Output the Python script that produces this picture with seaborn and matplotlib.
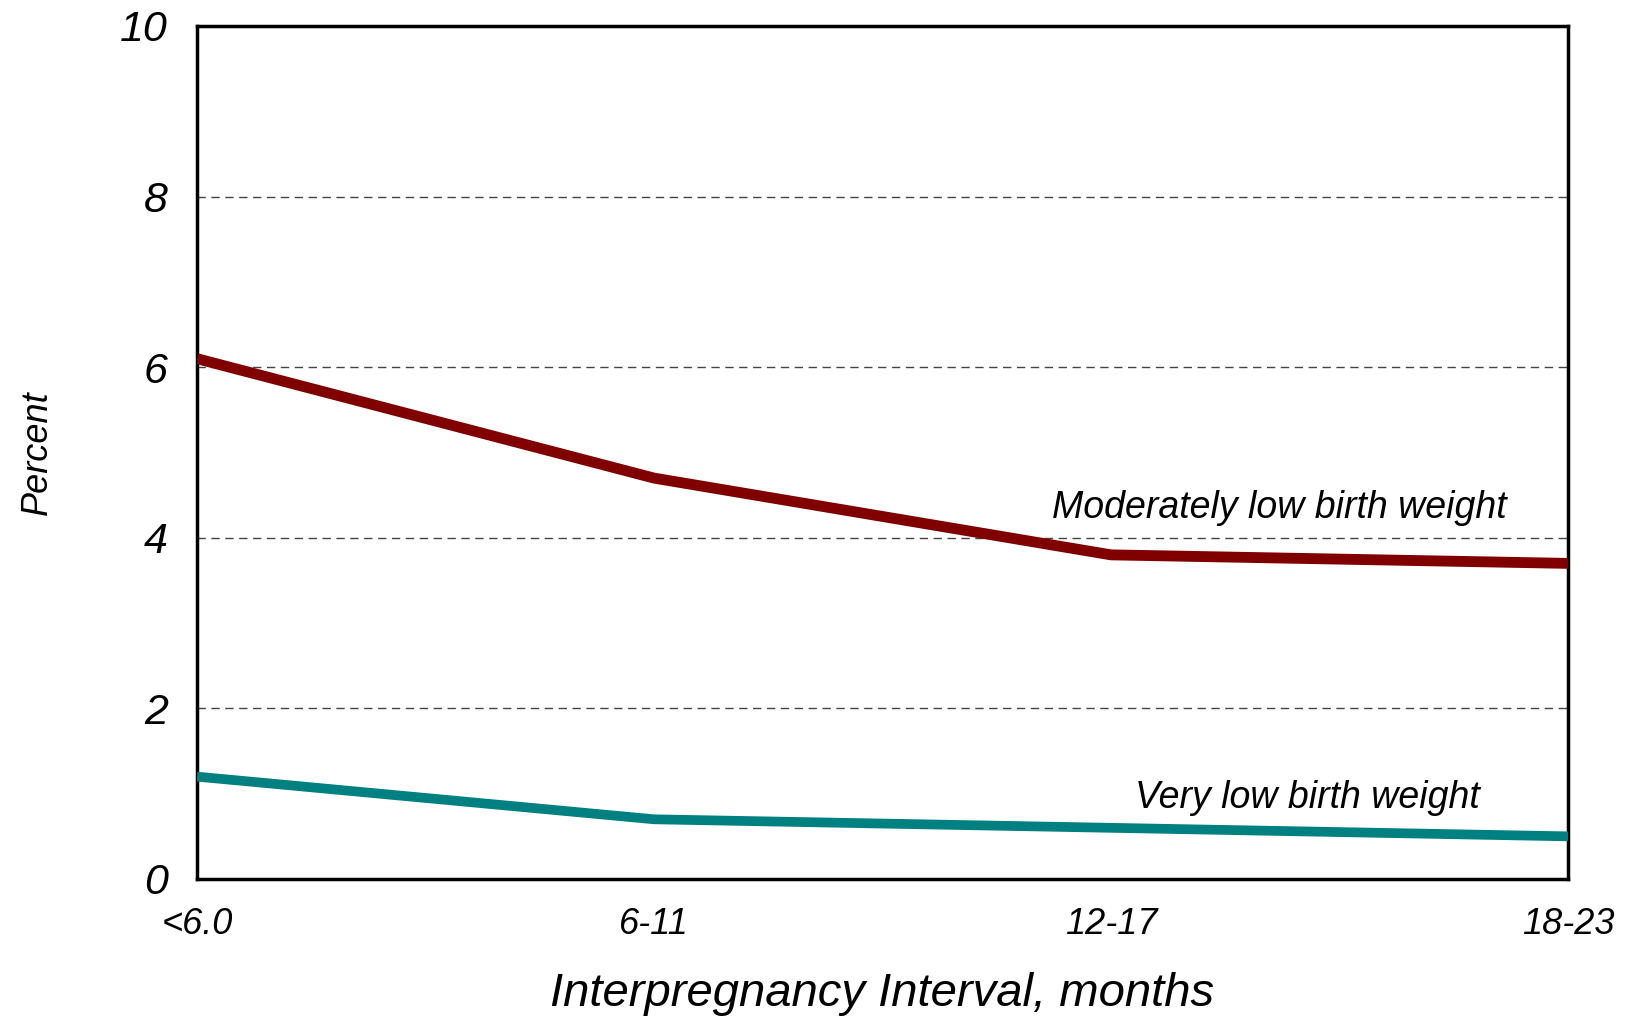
import matplotlib
matplotlib.use("Agg")
import matplotlib.pyplot as plt
import seaborn as sns
import pandas as pd

categories = ["<6.0", "6-11", "12-17", "18-23"]
moderately_low = [6.1, 4.7, 3.8, 3.7]
very_low = [1.2, 0.7, 0.6, 0.5]
series_names = ["Moderately low birth weight", "Very low birth weight"]
colors = ["#800000", "#008080"]
y_ticks = [0, 2, 4, 6, 8, 10]

sns.set_style("white")
plt.rcParams["font.family"] = ["Liberation Sans", "DejaVu Sans"]
plt.rcParams["font.style"] = "italic"
plt.rcParams["text.color"] = "black"
plt.rcParams["axes.labelcolor"] = "black"
plt.rcParams["xtick.color"] = "black"
plt.rcParams["ytick.color"] = "black"

df = pd.DataFrame({
    "pos": list(range(len(categories))) * 2,
    "value": moderately_low + very_low,
    "series": [series_names[0]] * len(categories) + [series_names[1]] * len(categories),
})

fig = plt.figure(figsize=(16.25, 10.17), dpi=100)
ax = fig.add_axes([197/1625, 1 - 879/1017, (1568-197)/1625, (879-26)/1017])

for y in y_ticks[1:-1]:
    ax.axhline(y, color="#444444", lw=1.0, ls=(0, (6, 4)), zorder=0)

sns.lineplot(data=df, x="pos", y="value", hue="series", palette=colors,
             linewidth=7.5, ax=ax, legend=False, zorder=3)
for line, lw in zip(ax.get_lines()[-2:], [7.8, 7.0]):
    line.set_solid_joinstyle("miter")
    line.set_solid_capstyle("butt")
    line.set_linewidth(lw)

ax.set_xlim(0, len(categories) - 1)
ax.set_ylim(0, 10)
ax.set_xticks(range(len(categories)))
ax.set_xticklabels(categories, fontsize=26, style="italic", color="black")
ax.set_yticks(y_ticks)
ax.set_yticklabels([str(t) for t in y_ticks], fontsize=31, style="italic", color="black")
ax.tick_params(axis="x", length=0, pad=20)
ax.tick_params(axis="y", length=0, pad=21)

ax.set_xlabel("Interpregnancy Interval, months", fontsize=34, style="italic",
              labelpad=22, color="black")
ax.set_ylabel("Percent", fontsize=26, style="italic", labelpad=47, color="black")

for s in ax.spines.values():
    s.set_visible(True)
    s.set_color("black")
    s.set_linewidth(2.5)

ax.text(1.87, 4.23, series_names[0], fontsize=27, style="italic", ha="left",
        va="baseline", color="black")
ax.text(2.053, 0.83, series_names[1], fontsize=27, style="italic", ha="left",
        va="baseline", color="black")

fig.savefig("out.png", dpi=100)
